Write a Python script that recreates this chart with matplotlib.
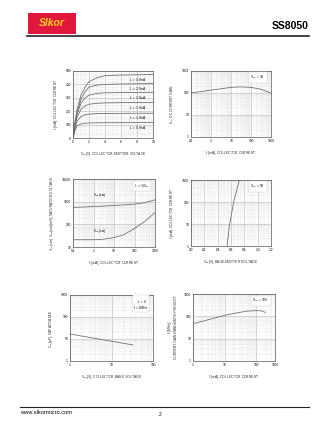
import matplotlib
matplotlib.use("Agg")
import matplotlib.pyplot as plt
from matplotlib.patches import Rectangle

plt.rcParams['font.family'] = ['Liberation Sans', 'DejaVu Sans']

W, H = 336, 434

# --- chart 1: IC vs VCE
vce = [0, 0.25, 0.5, 1, 1.5, 2, 3, 4, 6, 8, 10]
ib_labels = ["I$_B$ = 3.0mA", "I$_B$ = 2.5mA", "I$_B$ = 2.0mA", "I$_B$ = 1.5mA", "I$_B$ = 1.0mA", "I$_B$ = 0.5mA"]
ic_curves = [
    [0, 120, 210, 320, 380, 420, 450, 465, 470, 472, 474],
    [0, 110, 190, 290, 345, 380, 395, 400, 403, 405, 406],
    [0, 100, 175, 260, 300, 320, 333, 337, 339, 340, 341],
    [0, 90, 155, 215, 240, 252, 259, 262, 264, 265, 266],
    [0, 75, 125, 160, 172, 178, 182, 183, 184, 185, 185],
    [0, 55, 90, 105, 110, 112, 113, 114, 114, 115, 115],
]
ib_label_y = [433, 363, 296, 221, 146, 72]

# --- chart 2: hFE vs IC
ic_hfe = [0.1, 0.3, 1, 3, 10, 30, 100, 300, 1000]
hfe = [102, 115, 135, 155, 180, 190, 180, 150, 100]

# --- chart 3: saturation voltages
ic_sat = [0.1, 0.3, 1, 3, 10, 30, 100, 300, 1000]
vbe_sat = [560, 580, 610, 640, 680, 720, 780, 900, 1200]
vce_sat = [21, 21, 21, 22, 26, 35, 65, 130, 330]

# --- chart 4: IC vs VBE
vbe_on = [0.54, 0.58, 0.64, 0.725]
ic_on = [1, 10, 100, 1000]

# --- chart 5: Cob vs VCB
vcb = [1, 2, 5, 10, 20, 33]
cob = [16.8, 13.4, 9.9, 7.9, 6.3, 5.4]

# --- chart 6: fT vs IC
ic_ft = [1, 2, 5, 10, 20, 50, 100, 150, 200]
ft = [47, 60, 85, 110, 135, 170, 180, 175, 150]

fig = plt.figure(figsize=(W / 100, H / 100), dpi=100)


def box(l, r, t, b):
    return [l / W, 1 - b / H, (r - l) / W, (b - t) / H]


def style(ax, xlabel, ylabel, logx=False, logy=False):
    if logx:
        ax.set_xscale('log')
    if logy:
        ax.set_yscale('log')
    ax.grid(True, which='major', color='#b0b0b0', lw=0.4)
    ax.grid(True, which='minor', color='#dcdcdc', lw=0.3)
    ax.minorticks_on()
    ax.tick_params(which='both', length=0, labelsize=2.3, pad=1.5)
    for s in ax.spines.values():
        s.set_linewidth(0.5)
        s.set_color('#555555')
    ax.set_xlabel(xlabel, fontsize=2.4, labelpad=4, color='#333333')
    ax.set_ylabel(ylabel, fontsize=2.4, labelpad=4, color='#333333')


def note(ax, txt):
    ax.text(0.93, 0.9, txt, transform=ax.transAxes, fontsize=2.3, ha='right', va='center',
            bbox=dict(fc='white', ec='#cccccc', lw=0.3, pad=1))


lc = '#707070'

# chart 1
ax1 = fig.add_axes(box(73, 153, 71, 138))
style(ax1, "V$_{CE}$[V], COLLECTOR-EMITTER VOLTAGE", "I$_C$[mA], COLLECTOR CURRENT")
for c, lab, ly in zip(ic_curves, ib_labels, ib_label_y):
    ax1.plot(vce, c, color=lc, lw=0.6)
    ax1.text(8.1, ly, lab, fontsize=2.3, ha='center', va='center')
ax1.set_xlim(0, 10)
ax1.set_ylim(0, 500)
ax1.set_xticks([0, 2, 4, 6, 8, 10])
ax1.set_yticks([0, 100, 200, 300, 400, 500])

# chart 2
ax2 = fig.add_axes(box(191, 271, 71, 137))
style(ax2, "I$_C$[mA], COLLECTOR CURRENT", "h$_{FE}$, DC CURRENT GAIN", True, True)
ax2.plot(ic_hfe, hfe, color=lc, lw=0.6)
ax2.set_xlim(0.1, 1000)
ax2.set_ylim(1, 1000)
ax2.set_xticks([0.1, 1, 10, 100, 1000], ["0.1", "1", "10", "100", "1000"])
ax2.set_yticks([1, 10, 100, 1000], ["1", "10", "100", "1000"])
note(ax2, "V$_{CE}$ = 1V")

# chart 3
ax3 = fig.add_axes(box(73, 155, 179, 247))
style(ax3, "I$_C$[mA], COLLECTOR CURRENT",
      "V$_{CE}$(sat), V$_{BE}$(sat)[mV], SATURATION VOLTAGE", True, True)
ax3.plot(ic_sat, vbe_sat, color=lc, lw=0.6)
ax3.plot(ic_sat, vce_sat, color=lc, lw=0.6)
ax3.text(2, 1800, "V$_{BE}$(sat)", fontsize=2.3, ha='center')
ax3.text(2, 45, "V$_{CE}$(sat)", fontsize=2.3, ha='center')
ax3.set_xlim(0.1, 1000)
ax3.set_ylim(10, 10000)
ax3.set_xticks([0.1, 1, 10, 100, 1000], ["0.1", "1", "10", "100", "1000"])
ax3.set_yticks([10, 100, 1000, 10000], ["10", "100", "1000", "10000"])
note(ax3, "I$_C$ = 10 I$_B$")

# chart 4
ax4 = fig.add_axes(box(191, 271, 180, 246))
style(ax4, "V$_{BE}$[V], BASE-EMITTER VOLTAGE", "I$_C$[mA], COLLECTOR CURRENT", False, True)
ax4.plot(vbe_on, ic_on, color=lc, lw=0.6)
ax4.set_xlim(0, 1.2)
ax4.set_ylim(1, 1000)
ax4.set_xticks([0, 0.2, 0.4, 0.6, 0.8, 1.0, 1.2])
ax4.set_yticks([1, 10, 100, 1000], ["1", "10", "100", "1000"])
note(ax4, "V$_{CE}$ = 5V")

# chart 5
ax5 = fig.add_axes(box(70, 153, 295, 361))
style(ax5, "V$_{CB}$[V], COLLECTOR-BASE VOLTAGE", "C$_{ob}$[pF], CAPACITANCE", True, True)
ax5.plot(vcb, cob, color=lc, lw=0.6)
ax5.set_xlim(1, 100)
ax5.set_ylim(1, 1000)
ax5.set_xticks([1, 10, 100], ["1", "10", "100"])
ax5.set_yticks([1, 10, 100, 1000], ["1", "10", "100", "1000"])
ax5.text(0.93, 0.86, "I$_E$ = 0\nf = 1MHz", transform=ax5.transAxes, fontsize=2.3,
         ha='right', va='center', bbox=dict(fc='white', ec='#cccccc', lw=0.3, pad=1))

# chart 6
ax6 = fig.add_axes(box(193, 275, 294, 361))
style(ax6, "I$_C$[mA], COLLECTOR CURRENT",
      "f$_T$[MHz],\nCURRENT GAIN BANDWIDTH PRODUCT", True, True)
ax6.plot(ic_ft, ft, color=lc, lw=0.6)
ax6.set_xlim(1, 400)
ax6.set_ylim(1, 1000)
ax6.set_xticks([1, 10, 100, 400], ["1", "10", "100", "1000"])
ax6.set_yticks([1, 10, 100, 1000], ["1", "10", "100", "1000"])
note(ax6, "V$_{CE}$ = 10V")

# header / footer
fig.patches.append(Rectangle((28 / W, 1 - 33.5 / H), 48 / W, 21 / H,
                             transform=fig.transFigure, fc='#e0163c', ec='none'))
fig.text(52 / W, 1 - 23.5 / H, "Slkor", color='#ffd21e', fontsize=7.5,
         fontweight='bold', style='italic', ha='center', va='center')
fig.text(309 / W, 1 - 26 / H, "SS8050", fontsize=7.5, fontweight='bold', ha='right', va='center')
fig.add_artist(plt.Line2D([27 / W, 309 / W], [1 - 35.5 / H] * 2, color='#222222', lw=1.2))
fig.add_artist(plt.Line2D([20 / W, 309 / W], [1 - 406.8 / H] * 2, color='#222222', lw=0.8))
fig.text(20.5 / W, 1 - 413 / H, "www.slkormicro.com", fontsize=4.1, va='center')
fig.text(160 / W, 1 - 414 / H, "2", fontsize=3.5, ha='center', va='center')

fig.savefig("out.png", dpi=100)
